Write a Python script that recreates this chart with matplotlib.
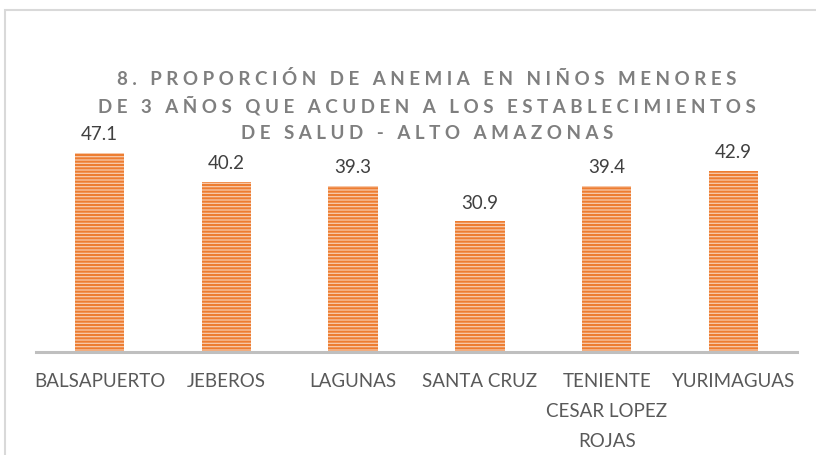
import matplotlib
matplotlib.use("Agg")
import matplotlib.pyplot as plt
from matplotlib.patches import Rectangle

categories = ["BALSAPUERTO", "JEBEROS", "LAGUNAS", "SANTA CRUZ",
              "TENIENTE\nCESAR LOPEZ\nROJAS", "YURIMAGUAS"]
values = [47.1, 40.2, 39.3, 30.9, 39.4, 42.9]
title_lines = ["8. PROPORCIÓN DE ANEMIA EN NIÑOS MENORES",
               "DE 3 AÑOS QUE ACUDEN A LOS ESTABLECIMIENTOS",
               "DE SALUD - ALTO AMAZONAS"]

plt.rcParams['font.family'] = ['Lato', 'DejaVu Sans']
plt.rcParams['hatch.linewidth'] = 1.5

W, H = 816, 455
fig = plt.figure(figsize=(W / 100, H / 100), dpi=100)

# outer chart frame
fig.patches.append(Rectangle((5 / W, -0.1), 1.2, (H - 10) / H + 0.1,
                             transform=fig.transFigure, fill=False,
                             edgecolor='#D9D9D9', linewidth=1.5))

ax = fig.add_axes([36 / W, (H - 352) / H, (797 - 36) / W, (352 - 140.75) / H])
x = list(range(len(categories)))
bars = ax.bar(x, values, width=0.39, color='#F8CBAD', edgecolor='#ED7D31',
              linewidth=0, hatch='-----', zorder=2)
ax.set_xlim(-0.5, len(categories) - 0.5)
ax.set_ylim(0, 50)
ax.set_yticks([])
ax.set_xticks(x)
ax.set_xticklabels(categories, fontsize=13.5, color='#595959', linespacing=1.95)
ax.tick_params(axis='x', length=0, pad=15)
for s in ['top', 'right', 'left']:
    ax.spines[s].set_visible(False)
ax.spines['bottom'].set_color('#BFBFBF')
ax.spines['bottom'].set_linewidth(2.2)
ax.spines['bottom'].set_zorder(3)
ax.bar_label(bars, labels=[f"{v:.1f}" for v in values], padding=7,
             fontsize=13.5, color='#404040')

def track(s):
    words = s.split(' ')
    return '   '.join(' '.join(w) for w in words)

for i, line in enumerate(title_lines):
    fig.text(427 / W, 1 - (79 + 27 * i) / H, track(line), ha='center',
             va='center', fontsize=13.5, fontweight='bold', color='#7F7F7F')

fig.savefig('out.png', dpi=100)
